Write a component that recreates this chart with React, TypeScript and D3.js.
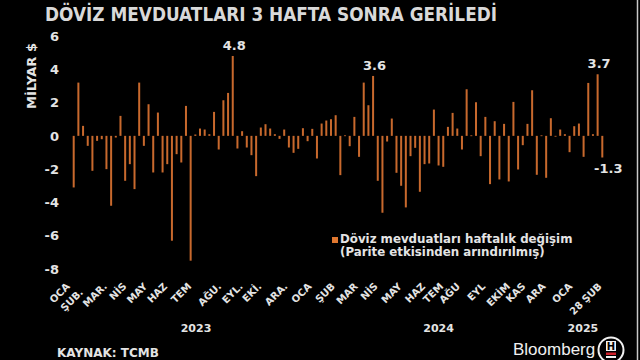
import React from "react";
import * as d3 from "d3";

const START_DATE = "2022-12-30";
const values: number[] = [
  -3.1, 3.2, 0.6, -0.6, -2.1, -0.3, -0.2, -2.0, -4.2, -0.1,
  1.2, -2.7, -1.7, -3.2, 3.2, -0.6, 1.9, -2.2, 1.4, -2.2,
  -1.7, -6.3, -1.1, -1.6, 1.8, -7.5, 0.08, 0.44, 0.38, 0.1,
  1.44, -0.82, 2.14, 2.58, 4.8, -0.76, 0.28, -0.7, -1.16, -2.42,
  0.5, 0.7, 0.44, 0.1, -0.18, 0.38, -0.7, -1.02, -0.78, 0.46,
  -0.32, 0.42, -1.36, 0.74, 0.92, 1.0, 1.24, -2.36, 0.03, -0.62,
  1.14, -1.26, 3.2, 1.84, 3.6, -2.7, -4.62, -0.34, 1.04, -2.22,
  -3.0, -4.3, -1.22, -0.72, -3.36, -1.7, -1.66, 1.58, -1.78, -1.86,
  0.54, 1.38, 0.44, -0.82, 2.8, 0.03, 2.02, -1.22, 1.14, -2.9,
  0.88, -2.62, 0.72, -2.74, 2.04, -2.02, -0.56, 0.72, 2.74, -2.34,
  0.03, -2.52, 1.06, -0.03, 0.38, 0.1, -0.98, 0.58, 0.74, -1.26,
  3.18, 0.1, 3.7, -1.3,
];
const yTicks = [6, 4, 2, 0, -2, -4, -6, -8];
const monthLabels = [
  "OCA", "ŞUB.", "MAR.", "NİS", "MAY", "HAZ", "TEM", "AĞU.", "EYL.", "EKİ.", "ARA.",
  "OCA", "ŞUB", "MAR", "NİS", "MAY", "HAZ", "TEM", "AĞU", "EYL", "EKİM", "KAS", "ARA",
  "OCA", "28 ŞUB",
];
const monthLabelDates = [
  "2022-12-25", "2023-01-14", "2023-02-19", "2023-03-20", "2023-04-20", "2023-05-20",
  "2023-06-25", "2023-08-09", "2023-09-10", "2023-10-08", "2023-11-16", "2023-12-22",
  "2024-01-26", "2024-02-29", "2024-03-30", "2024-05-05", "2024-06-09", "2024-07-06",
  "2024-07-31", "2024-09-07", "2024-10-14", "2024-11-06", "2024-12-06", "2025-01-15",
  "2025-02-28",
];
const lowered = [false, true, false, false, false, false, false, false, false, false, false,
  false, false, false, false, false, false, false, false, false, false, false, false, false, false];
const years = ["2023", "2024", "2025"];
const yearDates = ["2023-07-01", "2024-06-28", "2025-01-30"];
const annotated = [
  { idx: 34, text: "4.8", above: true },
  { idx: 64, text: "3.6", above: true },
  { idx: 112, text: "3.7", above: true },
  { idx: 113, text: "-1.3", above: false },
];
const title = "DÖVİZ MEVDUATLARI 3 HAFTA SONRA GERİLEDİ";
const yAxisTitle = "MİLYAR $";
const legendLine1 = "Döviz mevduatları haftalık değişim";
const legendLine2 = "(Parite etkisinden arındırılmış)";
const source = "KAYNAK: TCMB";

const parse = d3.utcParse("%Y-%m-%d");
const start = parse(START_DATE) as Date;
const dates = values.map((_, i) => d3.utcDay.offset(start, 7 * i));

const FONT = "'DejaVu Sans', Verdana, sans-serif";
const TXT = "#e4e4e4";
const BAR = "#c8692d";

export default function App() {
  const x = d3.scaleUtc()
    .domain([dates[0], dates[dates.length - 1]])
    .range([73.7, 602.3]);
  const y = d3.scaleLinear().domain([-8, 6]).range([269, 36]);
  const y0 = y(0);

  return (
    <svg width={640} height={360} style={{ position: "absolute", left: 0, top: 0, background: "#000" }}
      fontFamily={FONT}>
      <rect x={0} y={0} width={640} height={360} fill="#000" />
      <text x={45} y={21} fontSize={19} fontWeight="bold" fill="#d9d9d9"
        textLength={452} lengthAdjust="spacingAndGlyphs">{title}</text>

      {yTicks.map((t) => (
        <text key={t} x={59} y={y(t)} dy="0.36em" textAnchor="end" fontSize={13}
          fontWeight="bold" fill={TXT}>{t}</text>
      ))}
      <text transform={`translate(36,76) rotate(-90)`} textAnchor="middle" fontSize={13}
        fontWeight="bold" fill={TXT}>{yAxisTitle}</text>

      {values.map((v, i) => {
        const cx = x(dates[i]);
        const top = Math.min(y(v), y0);
        const h = Math.max(Math.abs(y(v) - y0), 0.8);
        return <rect key={i} x={cx - 1} y={top} width={2} height={h} fill={BAR} />;
      })}

      {annotated.map((a) => {
        const cx = x(dates[a.idx]);
        const yy = a.above ? y(values[a.idx]) - 6 : y(values[a.idx]) + 16;
        return (
          <text key={a.idx} x={a.above ? cx + 1.5 : cx + 6} y={yy} textAnchor="middle" fontSize={13}
            fontWeight="bold" fill={TXT}>{a.text}</text>
        );
      })}

      <rect x={332} y={237} width={6} height={6} fill="#e07830" />
      <text x={340} y={243} fontSize={11.8} fontWeight="bold" fill={TXT}>{legendLine1}</text>
      <text x={340} y={256} fontSize={11.8} fontWeight="bold" fill={TXT}>{legendLine2}</text>

      {monthLabels.map((m, i) => {
        const lx = x(parse(monthLabelDates[i]) as Date);
        const ly = lowered[i] ? 293 : 287;
        return (
          <text key={i} transform={`translate(${lx},${ly}) rotate(-45)`} textAnchor="end"
            fontSize={10} fontWeight="bold" fill={TXT}>{m}</text>
        );
      })}

      {years.map((yr, i) => (
        <text key={yr} x={x(parse(yearDates[i]) as Date)} y={332} textAnchor="middle"
          fontSize={11} fontWeight="bold" fill={TXT}>{yr}</text>
      ))}

      <text x={57} y={357} fontSize={12} fontWeight="bold" fill={TXT}>{source}</text>
      <text x={513} y={355} fontSize={17} fill="#f0f0f0"
        fontFamily="'Liberation Sans', Arial, sans-serif">Bloomberg</text>
      <g transform="translate(611,350)">
        <circle r={12.5} fill="#000" stroke="#f0f0f0" strokeWidth={2} />
        <rect x={-5} y={-9} width={10} height={10} fill="#f0f0f0" />
        <text x={0} y={-0.5} textAnchor="middle" fontSize={10} fontWeight="bold" fill="#000">H</text>
        <rect x={-5} y={2.5} width={10} height={2.5} fill="#d0202a" />
        <rect x={-5} y={6} width={10} height={2} fill="#f0f0f0" />
      </g>
      <line x1={637.5} y1={0} x2={637.5} y2={360} stroke="#c8c8c8" strokeWidth={1.5} />
    </svg>
  );
}
